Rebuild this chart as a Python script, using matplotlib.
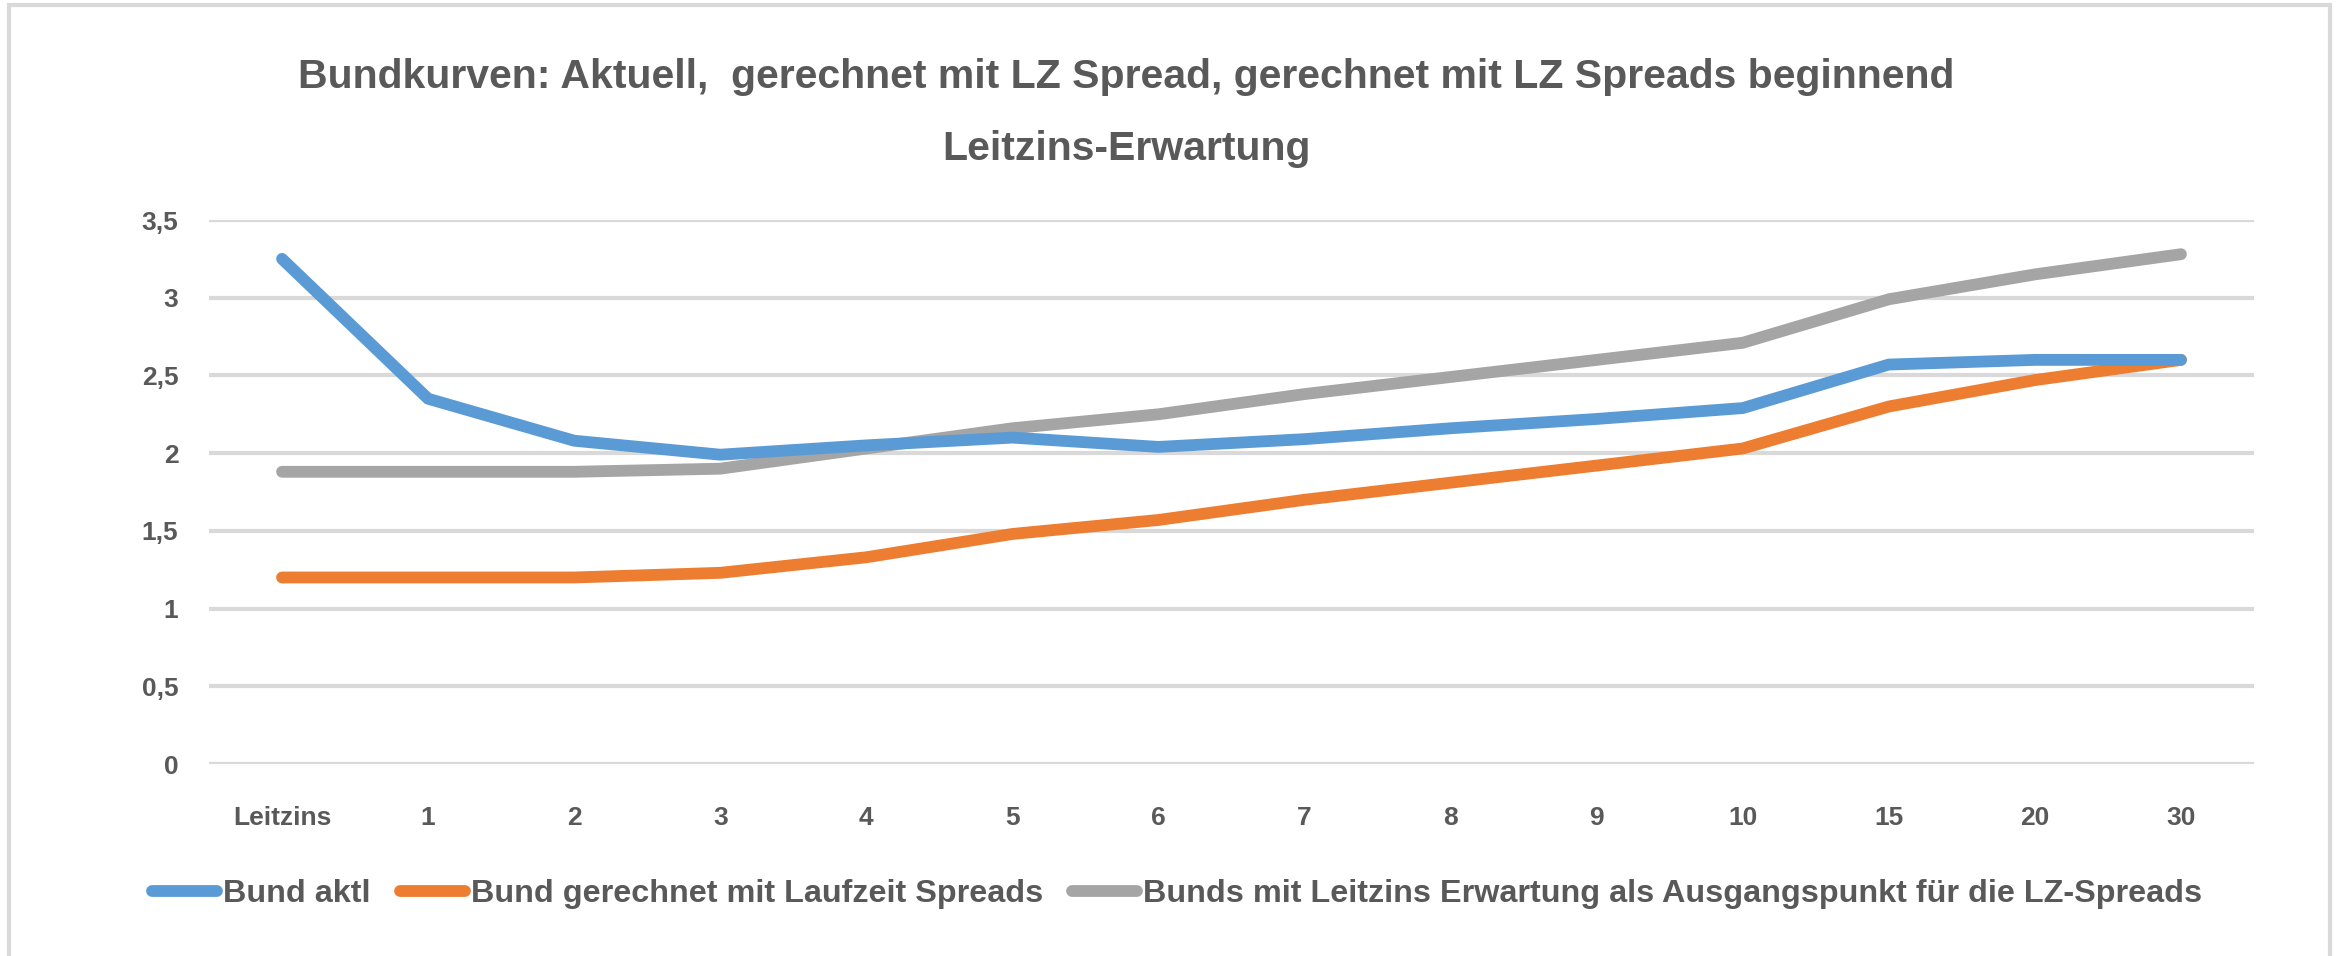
import matplotlib
matplotlib.use("Agg")
import matplotlib.pyplot as plt
from matplotlib.lines import Line2D
from matplotlib.patches import Rectangle

plt.rcParams['font.family'] = ['Liberation Sans', 'DejaVu Sans']

# data
categories = ['Leitzins', '1', '2', '3', '4', '5', '6', '7', '8', '9', '10', '15', '20', '30']
bund_aktl = [3.25, 2.35, 2.08, 1.99, 2.05, 2.10, 2.04, 2.09, 2.16, 2.22, 2.29, 2.57, 2.60, 2.60]
bund_laufzeit = [1.20, 1.20, 1.20, 1.23, 1.33, 1.48, 1.57, 1.70, 1.81, 1.92, 2.03, 2.30, 2.47, 2.60]
bund_leitzins = [1.88, 1.88, 1.88, 1.90, 2.03, 2.16, 2.25, 2.38, 2.49, 2.60, 2.71, 2.99, 3.15, 3.28]
yticks = [0, 0.5, 1, 1.5, 2, 2.5, 3, 3.5]
ytick_labels = ['0', '0,5', '1', '1,5', '2', '2,5', '3', '3,5']

labels = ['Bund aktl', 'Bund gerechnet mit Laufzeit Spreads',
          'Bunds mit Leitzins Erwartung als Ausgangspunkt für die LZ-Spreads']
colors = ['#5B9BD5', '#ED7D31', '#A5A5A5']
text_col = '#595959'
grid_col = '#D9D9D9'
line_w = 8.5

W, H = 2336, 956
fig = plt.figure(figsize=(W / 100, H / 100), dpi=100)
renderer = fig.canvas.get_renderer()

# axes placed in pixel coords of the reference
left, right, top, bottom = 209, 2254, 220, 764
ax = fig.add_axes([left / W, 1 - bottom / H, (right - left) / W, (bottom - top) / H])

x = list(range(len(categories)))
all_series = [bund_aktl, bund_laufzeit, bund_leitzins]
for idx in [1, 2, 0]:
    ax.plot(x, all_series[idx], color=colors[idx], linewidth=line_w, solid_capstyle='round',
            solid_joinstyle='round', zorder=3 + (idx == 0))

ax.set_xlim(-0.5, len(categories) - 0.5)
ax.set_ylim(0, 3.5)
ax.set_yticks(yticks)
ax.set_yticklabels(ytick_labels)
ax.set_xticks(x)
ax.set_xticklabels(categories)
ax.yaxis.grid(True, color=grid_col, linewidth=3)
ax.set_axisbelow(True)
for s in ax.spines.values():
    s.set_visible(False)
ax.tick_params(length=0, labelsize=19, labelcolor=text_col)
ax.tick_params(axis='y', pad=22)
ax.tick_params(axis='x', pad=30)
for t in ax.get_xticklabels() + ax.get_yticklabels():
    t.set_fontweight('bold')

# title, two lines; size fitted to the reference width of line one
t1 = fig.text(0.482, 1 - 77 / H,
              'Bundkurven: Aktuell,  gerechnet mit LZ Spread, gerechnet mit LZ Spreads beginnend',
              ha='center', va='center', fontsize=30, fontweight='bold', color=text_col)
w = t1.get_window_extent(renderer).width
title_size = 30 * 1663 / w
t1.set_fontsize(title_size)
fig.text(0.482, 1 - 149 / H, 'Leitzins-Erwartung',
         ha='center', va='center', fontsize=title_size, fontweight='bold', color=text_col)


def make_legend(size):
    handles = [Line2D([0], [0], color=c, linewidth=line_w, solid_capstyle='round') for c in colors]
    return fig.legend(handles, labels, loc='center', bbox_to_anchor=(0.504, 1 - 894 / H), ncol=3,
                      frameon=False, handlelength=2.0, handletextpad=0.2, columnspacing=0.9,
                      prop={'size': size, 'weight': 'bold'}, labelcolor=text_col,
                      borderpad=0, borderaxespad=0)


# legend, fitted to the reference span
leg = make_legend(22)
lw = leg.get_window_extent(renderer).width
leg.remove()
make_legend(22 * 2045 / lw)

# screenshot frame
fig.add_artist(Rectangle((9 / W, -0.05), (2330 - 9) / W, 1 - 5 / H + 0.05,
                         transform=fig.transFigure, fill=False, edgecolor=grid_col, linewidth=3))

fig.savefig('out.png', dpi=100)
